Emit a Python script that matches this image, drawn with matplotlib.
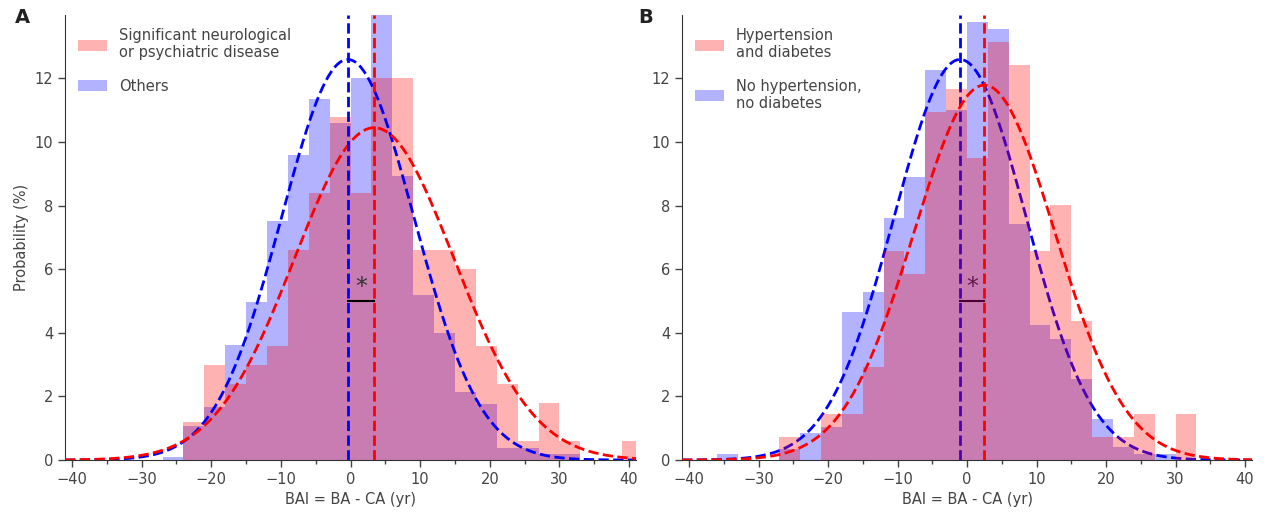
import numpy as np
import matplotlib.pyplot as plt
from matplotlib.ticker import MultipleLocator

# 3-year bins, left edges
bin_left = [-42, -39, -36, -33, -30, -27, -24, -21, -18, -15, -12, -9, -6, -3,
            0, 3, 6, 9, 12, 15, 18, 21, 24, 27, 30, 33, 36, 39]

# Panel A: probability (%) per bin
neuro_pct = [0, 0, 0, 0, 0, 0, 1.2, 3.0, 2.4, 3.0, 3.6, 6.6, 8.4, 10.8,
             8.4, 12.0, 12.0, 6.6, 6.6, 6.0, 3.6, 2.4, 0.6, 1.8, 0.6, 0, 0, 0.6]
others_pct = [0, 0, 0, 0, 0, 0.1, 1.07, 1.66, 3.62, 4.97, 7.53, 9.6, 11.36, 10.6,
              12.02, 14.3, 8.92, 5.18, 4.01, 2.15, 1.75, 0.37, 0.37, 0.2, 0.2, 0, 0, 0]

# Panel B
htdm_pct = [0, 0, 0, 0, 0, 0.73, 0, 1.46, 1.46, 2.92, 6.57, 5.84, 10.95, 11.68,
            9.49, 13.14, 12.41, 6.57, 8.03, 4.38, 0.73, 0.73, 1.46, 0, 1.46, 0, 0, 0]
no_htdm_pct = [0, 0, 0.19, 0, 0, 0.35, 0.84, 1.05, 4.67, 5.3, 7.61, 8.9, 12.28, 11.02,
               13.77, 13.57, 7.43, 4.25, 3.8, 2.55, 1.28, 0.42, 0.18, 0.18, 0, 0, 0, 0]

# normal fits (mean, sd)
fit_a = {'red': (3.4, 11.45), 'blue': (-0.4, 9.5)}
fit_b = {'red': (2.5, 10.15), 'blue': (-1.0, 9.5)}

bin_w = 3
params = {'font.size': 10.5,
          'axes.edgecolor': '#333333',
          'xtick.color': '#444444',
          'ytick.color': '#444444',
          'axes.labelcolor': '#444444',
          'text.color': '#444444'}
plt.rcParams.update(params)

fig = plt.figure(figsize=(12.68, 5.14), dpi=100)
ax_a = fig.add_axes([0.0513, 0.105, 0.4503, 0.866])
ax_b = fig.add_axes([0.5379, 0.105, 0.4495, 0.866])

xs = np.linspace(-41, 41, 400)


def fit_curve(mu, sd):
    return 100 * bin_w * np.exp(-0.5 * ((xs - mu) / sd) ** 2) / (sd * np.sqrt(2 * np.pi))


def draw_panel(ax, red, blue, fit, labels, lines_under):
    z_blue = 0.5 if lines_under else 3
    hb = ax.bar(bin_left, blue, width=bin_w, align='edge', color='blue', alpha=0.3,
                linewidth=0, zorder=1)
    hr = ax.bar(bin_left, red, width=bin_w, align='edge', color='red', alpha=0.3,
                linewidth=0, zorder=1.1)
    mb, sb = fit['blue']
    mr, sr = fit['red']
    ax.plot(xs, fit_curve(mb, sb), '--', color='blue', lw=2, zorder=z_blue)
    ax.plot(xs, fit_curve(mr, sr), '--', color='red', lw=2, zorder=3)
    ax.axvline(mb, ls='--', color='blue', lw=2, zorder=z_blue)
    ax.axvline(mr, ls='--', color='red', lw=2, zorder=3)
    ax.plot([mb, mr], [5.0, 5.0], color='black', lw=1.5, zorder=z_blue)
    ax.text((mb + mr) / 2, 5.05, '*', ha='center', va='bottom', fontsize=17,
            color='#333333', zorder=z_blue)

    ax.legend([hr, hb], labels, loc='upper left', frameon=False, fontsize=10.5,
              handlelength=2.0, handleheight=0.8, labelspacing=1.25,
              borderaxespad=0.5, handletextpad=0.8)

    ax.set_xlim(-41, 41)
    ax.set_ylim(0, 14)
    ax.xaxis.set_major_locator(MultipleLocator(10))
    ax.xaxis.set_minor_locator(MultipleLocator(5))
    ax.set_yticks([0, 2, 4, 6, 8, 10, 12])
    ax.tick_params(which='major', length=5, width=1)
    ax.tick_params(which='minor', length=3, width=1)
    ax.spines['top'].set_visible(False)
    ax.spines['right'].set_visible(False)
    ax.set_xlabel('BAI = BA - CA (yr)')


draw_panel(ax_a, neuro_pct, others_pct, fit_a,
           ['Significant neurological\nor psychiatric disease', 'Others'], False)
draw_panel(ax_b, htdm_pct, no_htdm_pct, fit_b,
           ['Hypertension\nand diabetes', 'No hypertension,\nno diabetes'], True)
ax_a.set_ylabel('Probability (%)')

fig.text(0.012, 0.955, 'A', fontsize=14, fontweight='bold', color='#222222')
fig.text(0.503, 0.955, 'B', fontsize=14, fontweight='bold', color='#222222')

fig.savefig('out.png', dpi=100)
